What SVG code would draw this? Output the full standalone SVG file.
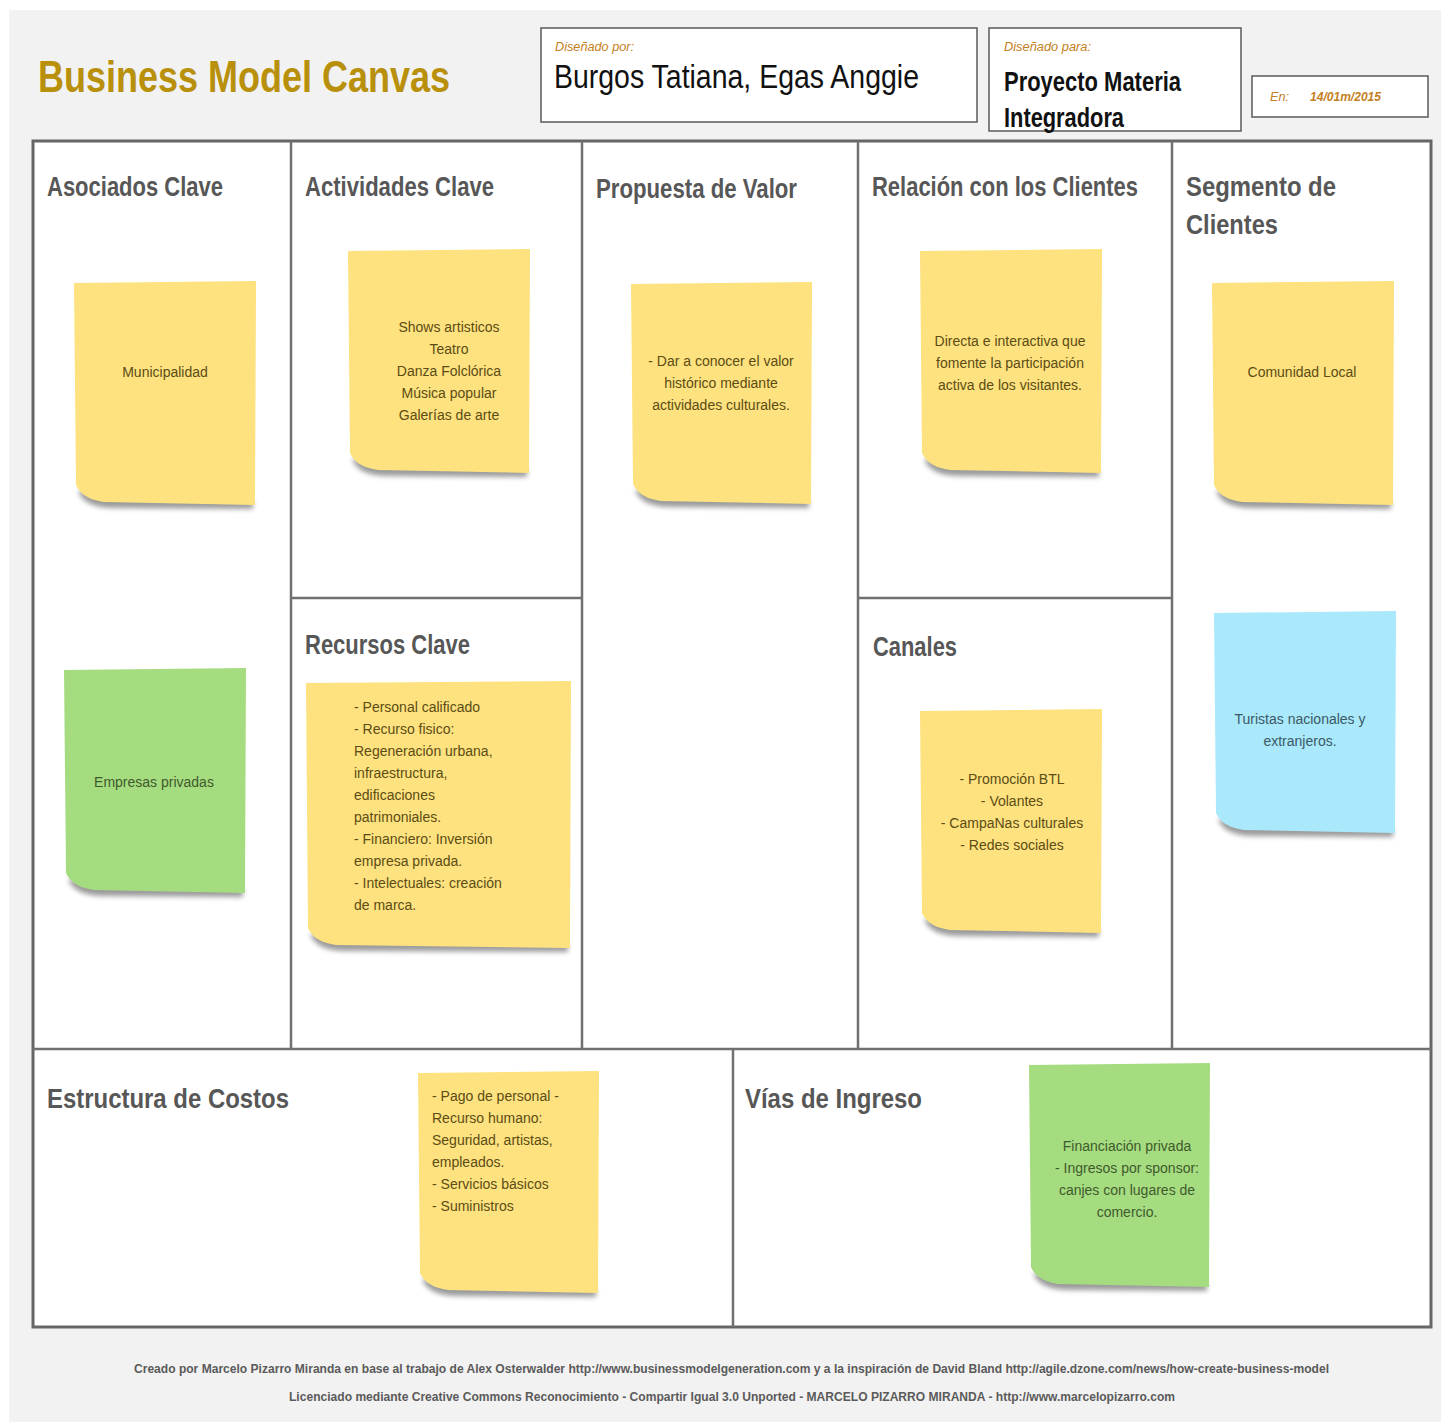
<svg xmlns="http://www.w3.org/2000/svg" width="1444" height="1427" viewBox="0 0 1444 1427">
<style>
.ttl{font-family:"Liberation Sans",Arial,sans-serif;font-weight:bold;font-size:27px;fill:#575757}
.lbl{font-family:"Liberation Sans",Arial,sans-serif;font-style:italic;font-size:12px;fill:#c4801e}
.note{font-family:"Liberation Sans",Arial,sans-serif;font-size:14px;fill:#5c4c14}
.noteg{font-family:"Liberation Sans",Arial,sans-serif;font-size:14px;fill:#3f5a2c}
.noteb{font-family:"Liberation Sans",Arial,sans-serif;font-size:14px;fill:#3c5866}
.foot{font-family:"Liberation Sans",Arial,sans-serif;font-weight:bold;font-size:13px;fill:#5a5a5a}
.hbox{fill:#ffffff;stroke:#5a5a5a;stroke-width:1.5}
.div{stroke:#707070;stroke-width:2.5;fill:none}
.y{fill:#fde27f}
.g{fill:#a6dc80}
.b{fill:#a9e9fb}
.sh{fill:#4a4a4a;opacity:0.55;filter:url(#blur)}
</style>
<defs>
<filter id="blur" x="-10%" y="-50%" width="120%" height="200%"><feGaussianBlur stdDeviation="2.5"/></filter>
</defs>
<rect x="0" y="0" width="1444" height="1427" fill="#ffffff"/>
<rect x="9" y="10" width="1432" height="1412" fill="#f2f2f2"/>

<g id="header">
<text x="38" y="92" font-family="Liberation Sans, Arial, sans-serif" font-weight="bold" font-size="45" fill="#b8900c" textLength="412" lengthAdjust="spacingAndGlyphs">Business Model Canvas</text>
<rect class="hbox" x="541" y="28" width="436" height="94"/>
<text class="lbl" x="555" y="51" textLength="79" lengthAdjust="spacingAndGlyphs">Diseñado por:</text>
<text x="554" y="88" font-family="Liberation Sans, Arial, sans-serif" font-size="34" fill="#111" textLength="365" lengthAdjust="spacingAndGlyphs">Burgos Tatiana, Egas Anggie</text>
<rect class="hbox" x="989" y="28" width="252" height="103"/>
<text class="lbl" x="1004" y="51" textLength="87" lengthAdjust="spacingAndGlyphs">Diseñado para:</text>
<text x="1004" y="91" font-family="Liberation Sans, Arial, sans-serif" font-weight="bold" font-size="28" fill="#111" textLength="177" lengthAdjust="spacingAndGlyphs">Proyecto Materia</text>
<text x="1004" y="127" font-family="Liberation Sans, Arial, sans-serif" font-weight="bold" font-size="28" fill="#111" textLength="120" lengthAdjust="spacingAndGlyphs">Integradora</text>
<rect class="hbox" x="1252" y="76" width="176" height="41"/>
<text class="lbl" x="1270" y="101" textLength="19" lengthAdjust="spacingAndGlyphs">En:</text>
<text class="lbl" x="1310" y="101" font-weight="bold" textLength="71" lengthAdjust="spacingAndGlyphs">14/01m/2015</text>
</g>

<g id="canvas">
<rect x="33" y="141" width="1398" height="1186" fill="#ffffff" stroke="#666" stroke-width="3"/>
<path class="div" d="M291,141 V1049 M582,141 V1049 M858,141 V1049 M1172,141 V1049 M291,598 H582 M858,598 H1172 M33,1049 H1431 M733,1049 V1327"/>
</g>

<g id="titles">
<text class="ttl" x="47" y="196" textLength="176" lengthAdjust="spacingAndGlyphs">Asociados Clave</text>
<text class="ttl" x="305" y="196" textLength="189" lengthAdjust="spacingAndGlyphs">Actividades Clave</text>
<text class="ttl" x="596" y="198" textLength="201" lengthAdjust="spacingAndGlyphs">Propuesta de Valor</text>
<text class="ttl" x="872" y="196" textLength="266" lengthAdjust="spacingAndGlyphs">Relación con los Clientes</text>
<text class="ttl" x="1186" y="196" textLength="150" lengthAdjust="spacingAndGlyphs">Segmento de</text>
<text class="ttl" x="1186" y="234" textLength="92" lengthAdjust="spacingAndGlyphs">Clientes</text>
<text class="ttl" x="305" y="654" textLength="165" lengthAdjust="spacingAndGlyphs">Recursos Clave</text>
<text class="ttl" x="873" y="656" textLength="84" lengthAdjust="spacingAndGlyphs">Canales</text>
<text class="ttl" x="47" y="1108" textLength="242" lengthAdjust="spacingAndGlyphs">Estructura de Costos</text>
<text class="ttl" x="745" y="1108" textLength="177" lengthAdjust="spacingAndGlyphs">Vías de Ingreso</text>
</g>

<g id="note-municipalidad">
<path class="sh" d="M78,491 Q84,508 114,508 L253,509 L253,501 Z"/>
<path class="y" d="M74,283 L256,281 L255,505 L104,502 Q82,499 76,485 Z"/>
<text class="note" x="165" y="377" text-anchor="middle">Municipalidad</text>
</g>

<g id="note-actividades">
<path class="sh" d="M352,459 Q358,476 388,476 L527,477 L527,469 Z"/>
<path class="y" d="M348,251 L530,249 L529,473 L378,470 Q356,467 350,453 Z"/>
<text class="note" text-anchor="middle"><tspan x="449" y="332">Shows artisticos</tspan><tspan x="449" y="354">Teatro</tspan><tspan x="449" y="376">Danza Folclórica</tspan><tspan x="449" y="398">Música popular</tspan><tspan x="449" y="420">Galerías de arte</tspan></text>
</g>

<g id="note-propuesta">
<path class="sh" d="M635,490 Q641,507 671,507 L809,508 L809,500 Z"/>
<path class="y" d="M631,284 L812,282 L811,504 L661,501 Q639,498 633,484 Z"/>
<text class="note" text-anchor="middle"><tspan x="721" y="366">- Dar a conocer el valor</tspan><tspan x="721" y="388">histórico mediante</tspan><tspan x="721" y="410">actividades culturales.</tspan></text>
</g>

<g id="note-relacion">
<path class="sh" d="M924,459 Q930,476 960,476 L1099,477 L1099,469 Z"/>
<path class="y" d="M920,251 L1102,249 L1101,473 L950,470 Q928,467 922,453 Z"/>
<text class="note" text-anchor="middle"><tspan x="1010" y="346">Directa e interactiva que</tspan><tspan x="1010" y="368">fomente la participación</tspan><tspan x="1010" y="390">activa de los visitantes.</tspan></text>
</g>

<g id="note-comunidad">
<path class="sh" d="M1216,491 Q1222,508 1252,508 L1391,509 L1391,501 Z"/>
<path class="y" d="M1212,283 L1394,281 L1393,505 L1242,502 Q1220,499 1214,485 Z"/>
<text class="note" x="1302" y="377" text-anchor="middle">Comunidad Local</text>
</g>

<g id="note-empresas">
<path class="sh" d="M68,879 Q74,896 104,896 L243,897 L243,889 Z"/>
<path class="g" d="M64,670 L246,668 L245,893 L94,890 Q72,887 66,873 Z"/>
<text class="noteg" x="154" y="787" text-anchor="middle">Empresas privadas</text>
</g>

<g id="note-recursos">
<path class="sh" d="M310,934 Q316,951 346,951 L568,952 L568,944 Z"/>
<path class="y" d="M306,683 L571,681 L570,948 L336,945 Q314,942 308,928 Z"/>
<text class="note"><tspan x="354" y="712">- Personal calificado</tspan><tspan x="354" y="734">- Recurso fisico:</tspan><tspan x="354" y="756">Regeneración urbana,</tspan><tspan x="354" y="778">infraestructura,</tspan><tspan x="354" y="800">edificaciones</tspan><tspan x="354" y="822">patrimoniales.</tspan><tspan x="354" y="844">- Financiero: Inversión</tspan><tspan x="354" y="866">empresa privada.</tspan><tspan x="354" y="888">- Intelectuales: creación</tspan><tspan x="354" y="910">de marca.</tspan></text>
</g>

<g id="note-canales">
<path class="sh" d="M924,919 Q930,936 960,936 L1099,937 L1099,929 Z"/>
<path class="y" d="M920,711 L1102,709 L1101,933 L950,930 Q928,927 922,913 Z"/>
<text class="note" text-anchor="middle"><tspan x="1012" y="784">- Promoción BTL</tspan><tspan x="1012" y="806">- Volantes</tspan><tspan x="1012" y="828">- CampaNas culturales</tspan><tspan x="1012" y="850">- Redes sociales</tspan></text>
</g>

<g id="note-turistas">
<path class="sh" d="M1218,819 Q1224,836 1254,836 L1393,837 L1393,829 Z"/>
<path class="b" d="M1214,613 L1396,611 L1395,833 L1244,830 Q1222,827 1216,813 Z"/>
<text class="noteb" text-anchor="middle"><tspan x="1300" y="724">Turistas nacionales y</tspan><tspan x="1300" y="746">extranjeros.</tspan></text>
</g>

<g id="note-costos">
<path class="sh" d="M422,1279 Q428,1296 458,1296 L596,1297 L596,1289 Z"/>
<path class="y" d="M418,1073 L599,1071 L598,1293 L448,1290 Q426,1287 420,1273 Z"/>
<text class="note"><tspan x="432" y="1101">- Pago de personal -</tspan><tspan x="432" y="1123">Recurso humano:</tspan><tspan x="432" y="1145">Seguridad, artistas,</tspan><tspan x="432" y="1167">empleados.</tspan><tspan x="432" y="1189">- Servicios básicos</tspan><tspan x="432" y="1211">- Suministros</tspan></text>
</g>

<g id="note-ingresos">
<path class="sh" d="M1033,1273 Q1039,1290 1069,1290 L1207,1291 L1207,1283 Z"/>
<path class="g" d="M1029,1065 L1210,1063 L1209,1287 L1059,1284 Q1037,1281 1031,1267 Z"/>
<text class="noteg" text-anchor="middle"><tspan x="1127" y="1151">Financiación privada</tspan><tspan x="1127" y="1173">- Ingresos por sponsor:</tspan><tspan x="1127" y="1195">canjes con lugares de</tspan><tspan x="1127" y="1217">comercio.</tspan></text>
</g>

<g id="footer">
<text class="foot" x="134" y="1373" textLength="1195" lengthAdjust="spacingAndGlyphs">Creado por Marcelo Pizarro Miranda en base al trabajo de Alex Osterwalder http://www.businessmodelgeneration.com y a la inspiración de David Bland http://agile.dzone.com/news/how-create-business-model</text>
<text class="foot" x="289" y="1401" textLength="886" lengthAdjust="spacingAndGlyphs">Licenciado mediante Creative Commons Reconocimiento - Compartir Igual 3.0 Unported - MARCELO PIZARRO MIRANDA - http://www.marcelopizarro.com</text>
</g>
</svg>
